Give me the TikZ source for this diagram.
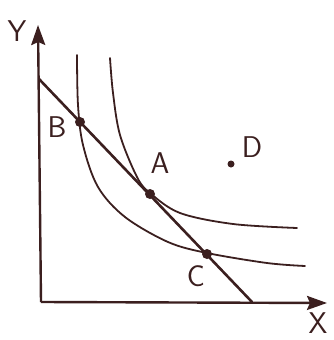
\documentclass[tikz,border=0pt]{standalone}
\usepackage{xcolor}
\usepackage{tikz}
\usetikzlibrary{arrows.meta, positioning}
\definecolor{ink}{HTML}{3B1F1F}

\begin{document}
\begin{tikzpicture}[
        x=1pt, y=-1pt,
        axis/.style={draw=ink, line width=2.4pt, -{Stealth[length=20pt, width=14pt, inset=3pt]}},
        curve/.style={draw=ink, line width=1.8pt, line cap=round},
        budget/.style={draw=ink, line width=2.6pt, line cap=round},
        dot/.style={circle, fill=ink, inner sep=0pt, minimum size=10pt},
        letter/.style={text=ink, font=\sffamily\fontsize{30}{34}\selectfont, inner sep=0pt}
    ]
        \useasboundingbox (0,0) rectangle (334,340);
        % axes
        \coordinate (O) at (41,302);
        \coordinate (ytop) at (38,25);
        \coordinate (xend) at (327,303);
        \draw[axis] (O) -- (ytop);
        \draw[axis] (O) -- (xend);
        \node[letter] (ylab) at (17,31) {Y};
        \node[letter] (xlab) at (318,323) {X};
        % budget line
        \coordinate (bstart) at (39,79);
        \coordinate (bend) at (252,302);
        \draw[budget] (bstart) -- (bend);
        % indifference curves
        \draw[curve] plot[smooth, tension=0.55] coordinates
            {(77,55) (78,105) (83,145) (98,187) (125,217) (168,242) (207,253) (267,263) (305,266)};
        \draw[curve] plot[smooth, tension=0.55] coordinates
            {(110,58) (113,93) (120,135) (137,177) (150,193) (180,213) (233,224) (297,228)};
        % points
        \node[dot] (B) at (80,122) {};
        \node[dot] (A) at (150,194) {};
        \node[dot] (C) at (207,254) {};
        \node[dot, minimum size=7pt] (D) at (231,164) {};
        \node[letter] (Blab) at (57,127) {B};
        \node[letter] (Alab) at (160,163) {A};
        \node[letter] (Clab) at (196,276) {C};
        \node[letter] (Dlab) at (252,147) {D};
    \end{tikzpicture}
\end{document}
